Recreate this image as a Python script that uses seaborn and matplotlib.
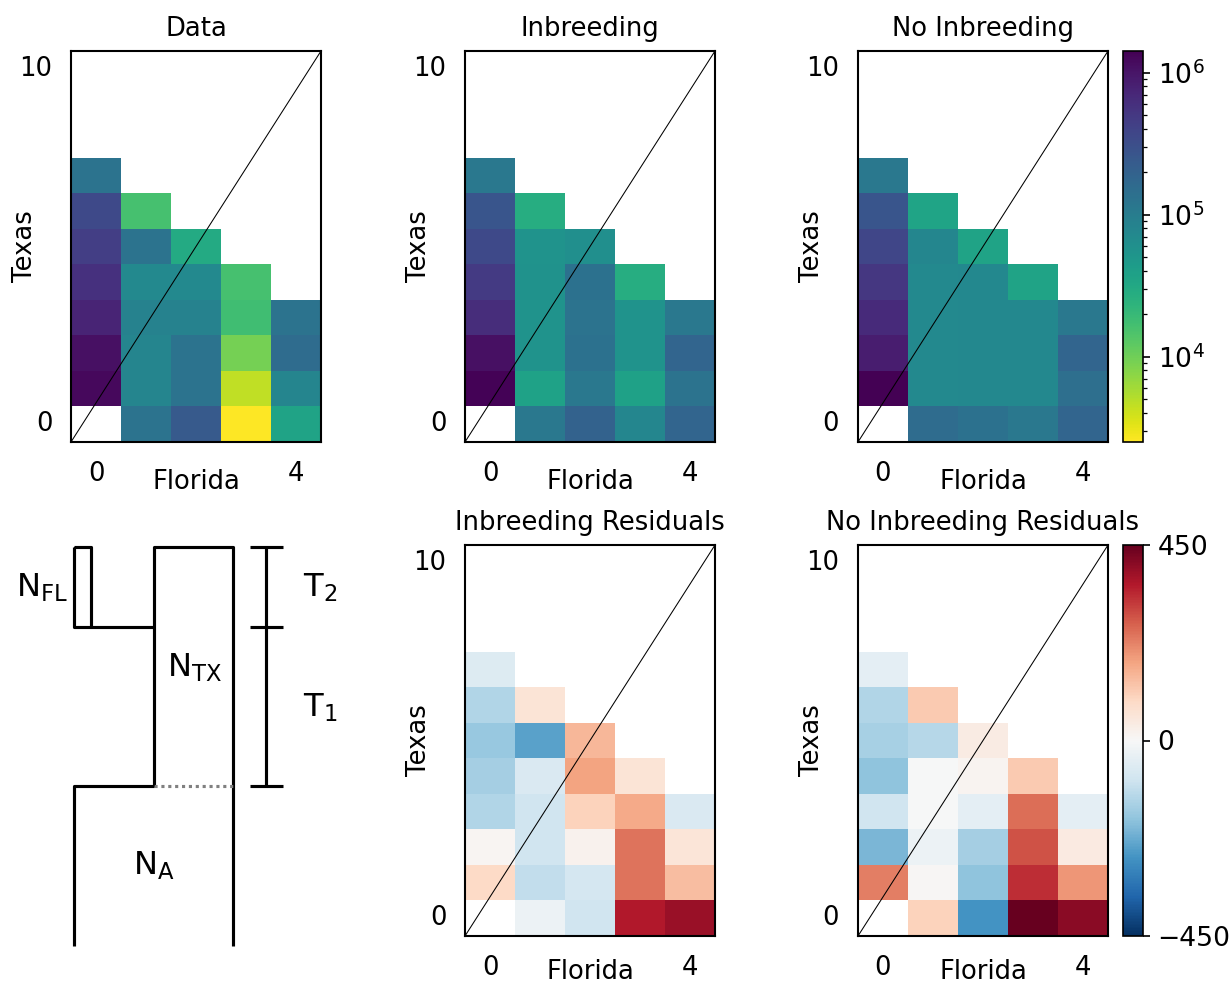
import numpy as np
import pandas as pd
import matplotlib
matplotlib.use("Agg")
import matplotlib.pyplot as plt
from matplotlib.colors import LogNorm, Normalize
import seaborn as sns

nan = np.nan
# ---- data: one list per Florida allele count (0..4), entries are Texas counts 0,1,2,...
data_counts = [
    [nan, 1.25e6, 1.10e6, 7.6e5, 5.9e5, 4.5e5, 3.5e5, 1.28e5],
    [1.28e5, 7.9e4, 7.9e4, 8.5e4, 7.2e4, 1.28e5, 1.63e4],
    [2.4e5, 1.28e5, 1.28e5, 8.5e4, 7.2e4, 2.98e4],
    [2.5e3, 4.6e3, 9.5e3, 1.74e4, 1.63e4],
    [3.6e4, 7.9e4, 1.55e5, 1.28e5],
]
inbreeding_model = [
    [nan, 1.38e6, 1.10e6, 6.4e5, 4.8e5, 3.5e5, 2.7e5, 1.13e5],
    [1.13e5, 3.7e4, 5.4e4, 5.4e4, 5.6e4, 5.4e4, 2.7e4],
    [2.0e5, 1.13e5, 1.32e5, 1.28e5, 1.32e5, 6.2e4],
    [7.7e4, 3.8e4, 5.4e4, 5.4e4, 2.7e4],
    [1.86e5, 1.28e5, 1.86e5, 1.13e5],
]
no_inbreeding_model = [
    [nan, 1.42e6, 8.6e5, 6.6e5, 5.2e5, 3.8e5, 2.7e5, 1.13e5],
    [1.55e5, 7.2e4, 7.2e4, 7.2e4, 7.2e4, 7.7e4, 3.5e4],
    [1.32e5, 7.3e4, 7.3e4, 7.3e4, 7.3e4, 3.6e4],
    [1.13e5, 7.3e4, 7.3e4, 7.3e4, 3.6e4],
    [1.86e5, 1.45e5, 1.86e5, 1.13e5],
]
inbreeding_resid = [
    [nan, 90, 8, -135, -153, -171, -135, -63],
    [-27, -112, -90, -90, -68, -243, 63],
    [-90, -80, 18, 104, 180, 149],
    [360, 243, 243, 171, 63],
    [387, 140, 58, -68],
]
no_inbreeding_resid = [
    [nan, 230, -207, -90, -180, -149, -135, -45],
    [104, 5, -25, -3, -3, -130, 117],
    [-270, -180, -153, -45, 12, 36],
    [450, 333, 288, 252, 117],
    [405, 198, 40, -45],
]
florida_ticks = [0, 4]
texas_ticks = [0, 10]
n_florida, n_texas = 5, 11
count_range = (2.5e3, 1.42e6)
resid_limit = 450
resid_cbar_ticks = [-450, 0, 450]

top_titles = ["Data", "Inbreeding", "No Inbreeding"]
bottom_titles = ["Inbreeding Residuals", "No Inbreeding Residuals"]


def to_frame(cols):
    mat = np.full((n_texas, n_florida), np.nan)
    for j, col in enumerate(cols):
        mat[: len(col), j] = col
    return pd.DataFrame(mat, index=range(n_texas), columns=range(n_florida))


W, H = 1232, 985
DPI = 150
FS = 12.4
fig = plt.figure(figsize=(W / DPI, H / DPI), dpi=DPI)


def px_rect(x0, y0, x1, y1):
    return [x0 / W, 1 - y1 / H, (x1 - x0) / W, (y1 - y0) / H]


col_lefts = [71, 465, 858]
ax_w = 250
top_y = (51, 442)
bot_y = (545, 936)


def draw_panel(ax, cols, cmap, norm, title, xlabel_y=-0.068):
    df = to_frame(cols)
    sns.heatmap(df, ax=ax, cmap=cmap, norm=norm, cbar=False,
                xticklabels=False, yticklabels=False)
    ax.set_xlim(0, n_florida)
    ax.set_ylim(0, n_texas)
    ax.plot([0, n_florida], [0, n_texas], color="black", lw=0.5)
    for s in ax.spines.values():
        s.set_visible(True)
        s.set_linewidth(1.0)
        s.set_color("black")
    ax.set_xticks([t + 0.5 for t in florida_ticks])
    ax.set_xticklabels([str(t) for t in florida_ticks], rotation=0)
    ax.set_yticks([t + 0.5 for t in texas_ticks])
    ax.set_yticklabels([str(t) for t in texas_ticks], rotation=0, va="center")
    ax.tick_params(length=0, pad=9, labelsize=FS)
    ax.set_xlabel("Florida", fontsize=FS)
    ax.set_ylabel("Texas", fontsize=FS)
    ax.xaxis.set_label_coords(0.5, xlabel_y)
    ax.yaxis.set_label_coords(-0.132, 0.5)
    ax.set_title(title, fontsize=FS, pad=7)
    return ax.collections[0]


log_norm = LogNorm(vmin=count_range[0], vmax=count_range[1])
mappable = None
for k, (cols, title) in enumerate(zip([data_counts, inbreeding_model, no_inbreeding_model], top_titles)):
    ax = fig.add_axes(px_rect(col_lefts[k], top_y[0], col_lefts[k] + ax_w, top_y[1]))
    mappable = draw_panel(ax, cols, "viridis_r", log_norm, title)

cax1 = fig.add_axes(px_rect(1123, top_y[0], 1143, top_y[1]))
cb1 = fig.colorbar(mappable, cax=cax1)
cb1.ax.tick_params(labelsize=12.8)

lin_norm = Normalize(vmin=-resid_limit, vmax=resid_limit)
for k, (cols, title) in enumerate(zip([inbreeding_resid, no_inbreeding_resid], bottom_titles)):
    ax = fig.add_axes(px_rect(col_lefts[k + 1], bot_y[0], col_lefts[k + 1] + ax_w, bot_y[1]))
    mappable = draw_panel(ax, cols, "RdBu_r", lin_norm, title, xlabel_y=-0.058)

cax2 = fig.add_axes(px_rect(1123, bot_y[0], 1143, bot_y[1]))
cb2 = fig.colorbar(mappable, cax=cax2, ticks=resid_cbar_ticks)
cb2.ax.tick_params(labelsize=12.8)

# ---- demographic model schematic (drawn in a pixel-like frame)
dax = fig.add_axes(px_rect(0, 520, 370, 985))
dax.set_xlim(0, 370)
dax.set_ylim(985, 520)
dax.axis("off")
lw = 1.5
t_now, t_split_fl, t_split_tx, t_bottom = 547, 627, 786, 946
x_a, x_fl, x_tx, x_right, x_bar = 74, 91, 154, 233, 266
seg = dict(color="black", lw=lw, solid_capstyle="butt")
# Florida
dax.plot([x_a, x_fl, x_fl, x_a, x_a], [t_now, t_now, t_split_fl, t_split_fl, t_now], **seg)
dax.plot([x_fl, x_tx], [t_split_fl, t_split_fl], **seg)
# Texas
dax.plot([x_tx, x_tx, x_right, x_right], [t_split_tx, t_now, t_now, t_bottom], **seg)
dax.plot([x_tx, x_right], [t_split_tx, t_split_tx], color="gray", lw=lw, ls=(0, (1, 1.2)))
# Ancestral
dax.plot([x_tx, x_a, x_a], [t_split_tx, t_split_tx, t_bottom], **seg)
# time bar
dax.plot([x_bar, x_bar], [t_now, t_split_tx], **seg)
for t in (t_now, t_split_fl, t_split_tx):
    dax.plot([x_bar - 16, x_bar + 17], [t, t], **seg)
fs = 15.5
dax.text(16, 597, r"$\mathregular{N_{FL}}$", fontsize=fs, va="baseline", ha="left")
dax.text(167, 677, r"$\mathregular{N_{TX}}$", fontsize=fs, va="baseline", ha="left")
dax.text(133, 875, r"$\mathregular{N_{A}}$", fontsize=fs, va="baseline", ha="left")
dax.text(303, 597, r"$\mathregular{T_{2}}$", fontsize=fs, va="baseline", ha="left")
dax.text(303, 717, r"$\mathregular{T_{1}}$", fontsize=fs, va="baseline", ha="left")

fig.savefig("out.png", dpi=DPI)
